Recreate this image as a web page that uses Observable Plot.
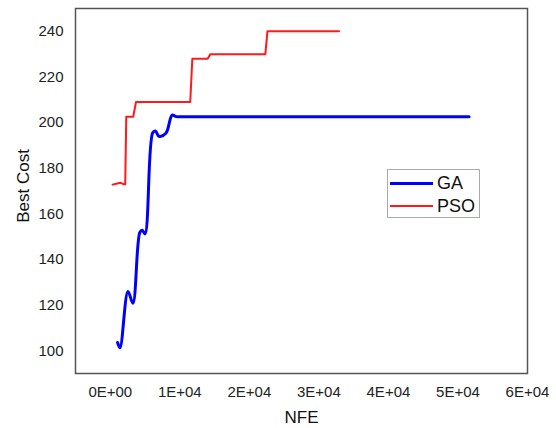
<!DOCTYPE html>
<html>
<head>
<meta charset="utf-8">
<script src="https://cdn.jsdelivr.net/npm/d3@7"></script>
<script src="https://cdn.jsdelivr.net/npm/@observablehq/plot@0.6"></script>
<style>
  html, body { margin: 0; padding: 0; background: #fff; }
  #wrap { position: relative; width: 556px; height: 428px; font-family: "Liberation Sans", Arial, sans-serif; }
  #legend { position: absolute; left: 387px; top: 169px; width: 93px; height: 49px; border: 1px solid #aaa; background: #fff; box-sizing: border-box; }
  .row { position: absolute; left: 2px; height: 20px; display: flex; align-items: center; }
  .sw { width: 43px; margin-right: 4px; }
  .lab { font-size: 18px; color: #111; line-height: 18px; }
</style>
</head>
<body>
<div id="wrap"></div>
<script>
// NFE (x) and Best Cost (y) values
const gaX  = [1050, 1400, 2550, 3250, 4250, 4600, 5000, 6100, 6500, 7000, 8000, 8900, 9500, 11000, 51600];
const gaY  = [103.6, 101.3, 126, 120.8, 151.8, 152.8, 151.2, 195.5, 196.3, 194, 195.3, 203.3, 202.6, 202.6, 202.6];
const psoX = [330, 1000, 1500, 1900, 2150, 2300, 3300, 3700, 11500, 11800, 14000, 14400, 22300, 22600, 32900];
const psoY = [172.8, 173.3, 173.6, 173, 173, 202.5, 202.5, 209, 209, 228, 228, 230, 230, 240, 240];

const xTicks = [0, 10000, 20000, 30000, 40000, 50000, 60000];
const xTickLabels = ["0E+00", "1E+04", "2E+04", "3E+04", "4E+04", "5E+04", "6E+04"];
const yTicks = [100, 120, 140, 160, 180, 200, 220, 240];
const seriesNames = ["GA", "PSO"];
const seriesColors = ["#0000ff", "#ff1a1a"];
const seriesWidths = [3, 2];

const ga = gaX.map((x, i) => ({x, y: gaY[i]}));
const pso = psoX.map((x, i) => ({x, y: psoY[i]}));

const chart = Plot.plot({
  width: 556,
  height: 428,
  marginLeft: 75,
  marginRight: 29,
  marginTop: 8,
  marginBottom: 55,
  style: { fontFamily: "Liberation Sans, Arial, sans-serif", fontSize: "15px", color: "#222", background: "#fff" },
  x: { domain: [-5000, 60000] },
  y: { domain: [90, 250] },
  marks: [
    Plot.axisX({ ticks: xTicks, tickFormat: d => xTickLabels[xTicks.indexOf(d)], tickSize: 0, tickPadding: 13, label: null, fontSize: 15 }),
    Plot.axisY({ ticks: yTicks, tickSize: 0, tickPadding: 12, label: null, fontSize: 15 }),
    Plot.text(["Best Cost"], { frameAnchor: "left", textAnchor: "middle", rotate: -90, dx: -52, dy: -5, fontSize: 17, fill: "#111" }),
    Plot.text(["NFE"], { frameAnchor: "bottom", dy: 49, fontSize: 17, fill: "#111" }),
    Plot.line(pso, { x: "x", y: "y", stroke: seriesColors[1], strokeWidth: seriesWidths[1] }),
    Plot.line(ga, { x: "x", y: "y", stroke: seriesColors[0], strokeWidth: seriesWidths[0], curve: "catmull-rom" }),
    Plot.frame({ stroke: "#555", strokeWidth: 1.5 })
  ]
});

const wrap = document.getElementById("wrap");
wrap.appendChild(chart);

const legend = document.createElement("div");
legend.id = "legend";
seriesNames.forEach((name, i) => {
  const row = document.createElement("div");
  row.className = "row";
  row.style.top = (3 + i * 23) + "px";
  const sw = document.createElement("div");
  sw.className = "sw";
  sw.style.borderTop = seriesWidths[i] + "px solid " + seriesColors[i];
  const lab = document.createElement("span");
  lab.className = "lab";
  lab.textContent = name;
  row.appendChild(sw);
  row.appendChild(lab);
  legend.appendChild(row);
});
wrap.appendChild(legend);
</script>
</body>
</html>
